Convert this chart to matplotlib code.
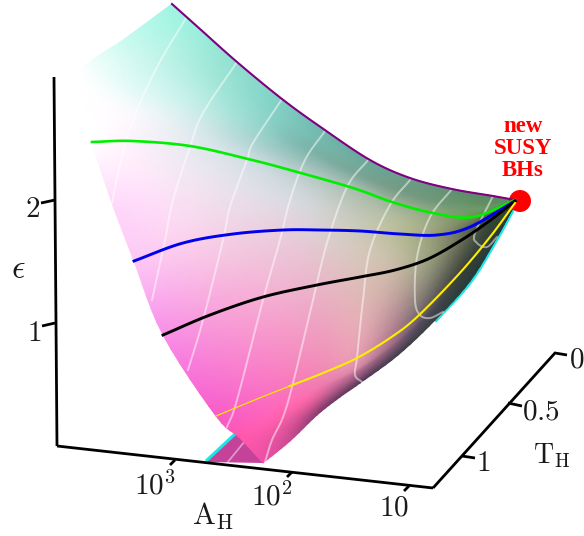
import numpy as np
import matplotlib
matplotlib.use('Agg')
import matplotlib.pyplot as plt
from matplotlib.colors import to_rgb
from matplotlib.patches import Circle, Polygon

plt.rcParams['mathtext.fontset'] = 'cm'

# surface: rows run from the far left edge to the SUSY point
row_top = [(172,4),(200,29),(237,62),(282,99),(322,128),(370,160),(410,178),(452,189),(493,196),(515,200)]
row_a = [(126,38),(168,50),(212,80),(268,109),(310,135),(362,167),(404,185),(446,197),(488,204),(515,200)]
row_b = [(80,72),(125,82),(190,103),(255,122),(300,145),(358,174),(400,191),(442,203),(482,209),(515,200)]
row_c = [(85,110),(128,112),(190,125),(250,142),(295,158),(355,181),(396,197),(437,208),(477,213),(515,200)]
green = [(92,142),(132,141),(190,146),(248,159),(290,170),(353,188),(392,202),(433,213),(473,217),(515,200)]
row_d = [(112,203),(158,192),(210,190),(265,195),(305,200),(356,210),(396,218),(435,224),(472,222),(515,200)]
blue = [(134,261),(183,243),(233,234),(283,230),(320,230),(360,231),(400,234),(437,235),(470,227),(515,201)]
black = [(163,335),(210,315),(263,297),(317,285),(360,277),(395,270),(428,259),(460,241),(488,222),(515,201)]
yellow = [(216,416),(257,399),(290,386),(323,373),(357,358),(390,338),(417,317),(458,275),(490,237),(515,203)]
row_e = [(240,438),(272,420),(307,400),(333,386),(360,372),(395,347),(426,319),(464,278),(493,237),(515,204)]
edge = [(263,463),(290,441),(317,415),(340,397),(360,383),(398,355),(435,320),(470,281),(497,237),(515,204)]
surface_rows = [row_top, row_a, row_b, row_c, green, row_d, blue, black, yellow, row_e, edge]

surface_colors = [
    ['#9ff5e2','#98eedc','#8fdfd0','#7fcfc4','#70b8ae','#68a79b','#6a9f8c','#5f8f78','#5a8a68','#60906a'],
    ['#c8fbf0','#b8f3e6','#a5e8da','#88d4c9','#78bdb2','#72a999','#709c85','#689672','#628f60','#60906a'],
    ['#ffffff','#e4fbf8','#c8f0ea','#98d8cf','#7fb9b0','#7ba696','#789c85','#6f9878','#6c9a68','#60906a'],
    ['#ffffff','#fbfafd','#dcecee','#b0d6d4','#9cc3be','#92b2a6','#8ba68e','#82a27c','#6f9660','#5a8858'],
    ['#ffffff','#fdf3fc','#e6eaf0','#cfdde2','#bdcfd0','#a8bdaf','#9eb09a','#8fa780','#748f5c','#507048'],
    ['#ffd9fb','#fde2f8','#efe2ef','#dfdde5','#d3d7da','#bfc6b8','#b3bc9e','#99a67f','#6f7c58','#486038'],
    ['#fdc6f5','#fbd0ee','#f2d0e4','#e8cfdc','#dbcfd2','#cbc9b8','#b8bb97','#959c78','#5f6a4c','#3f5030'],
    ['#f98ee8','#f8a0dc','#f5aed4','#e9b6c9','#dbbfb8','#c8b8a6','#9aa080','#6a7058','#3a4a38','#354830'],
    ['#f85cc8','#fa6cc4','#f878bc','#f088b4','#e49ab0','#b07c90','#786870','#3f4540','#304038','#304030'],
    ['#ff58ae','#ff60b0','#f868a8','#d06c9c','#a86688','#7a5a72','#4e4a58','#33403c','#2c3c38','#2c3c30'],
    ['#f050a8','#c84a90','#8a3a70','#6a3a60','#5a3a58','#443e4c','#3a4240','#2a3a38','#2a3a38','#2c3c30'],
]

# white lines on the surface
white_lines = [
    [(186,18),(157,67),(133,120),(120,165),(112,203)],
    [(237,62),(203,113),(190,147),(173,200),(165,240),(152,300)],
    [(282,99),(253,143),(247,160),(230,207),(223,240),(203,320),(188,370)],
    [(325,131),(305,160),(290,200),(280,240),(263,300),(237,400),(227,427)],
    [(368,160),(347,187),(327,243),(313,300),(293,383),(283,417),(272,440),(265,462)],
    [(410,180),(390,205),(370,250),(363,300),(357,357),(355,375),(362,382)],
    [(452,189),(430,217),(417,257),(415,300),(420,315),(430,318),(443,312)],
    [(493,196),(475,233),(477,243),(487,247),(497,237)],
]
fold_line = [(245,441),(227,463)]
fold_shape = [(206,462),(235,433),(257,450),(263,463)]
cyan_fold = [(206,461),(235,434)]
yellow_thin = [(216,416),(257,399),(290,386)]

# axes box
axis_z = [(54,77),(57,446)]
axis_x = [(57,446),(433,488)]
axis_y = [(433,488),(555,353),(567,355)]
z_ticks = [[(55,200),(41,203)], [(55,323),(42,326)]]
x_ticks = [[(175,460),(170,465)], [(292,472),(287,477)], [(409,486),(404,491)]]
y_ticks = [[(508,403),(522,406)], [(462,456),(475,458)]]
susy_point = (520,201)


def smooth(points, n=12):
    # catmull-rom through the read points, only to round off the drawing
    p = np.asarray(points, dtype=float)
    p = np.vstack([2*p[0]-p[1], p, 2*p[-1]-p[-2]])
    out = []
    for i in range(1, len(p)-2):
        t = np.linspace(0, 1, n, endpoint=False)[:, None]
        out.append(0.5*(2*p[i] + (p[i+1]-p[i-1])*t + (2*p[i-1]-5*p[i]+4*p[i+1]-p[i+2])*t**2
                        + (3*p[i]-p[i-1]-3*p[i+1]+p[i+2])*t**3))
    out.append(p[-2:-1])
    return np.vstack(out)


def refine(grid):
    rows = np.array([smooth(r, 6) for r in grid])
    return np.array([smooth(rows[:, j], 6) for j in range(rows.shape[1])]).transpose(1, 0, 2)


fig = plt.figure(figsize=(5.84, 5.36), dpi=100)
ax = fig.add_axes([0, 0, 1, 1])
ax.set_xlim(0, 584)
ax.set_ylim(536, 0)
ax.axis('off')

ax.add_patch(Polygon(fold_shape, closed=True, facecolor='#c4429a', edgecolor='none', zorder=1))
ax.plot(*zip(*cyan_fold), color='#19e6e6', lw=2.2, zorder=1.5, solid_capstyle='butt')
ax.plot(*zip(*fold_line), color='white', alpha=0.45, lw=1.3, zorder=1.6)

edge_line = smooth(edge[6:])
ax.plot(edge_line[:, 0]+1.2, edge_line[:, 1]+0.6, color='#19e6e6', lw=2, zorder=1.7)

pos = refine(np.array(surface_rows, dtype=float))
col = np.clip(refine(np.array([[to_rgb(c) for c in r] for r in surface_colors])), 0, 1)
ax.pcolormesh(pos[:, :, 0], pos[:, :, 1], col, shading='gouraud', zorder=2, rasterized=True)

for w in white_lines:
    s = smooth(w)
    ax.plot(s[:, 0], s[:, 1], color='white', alpha=0.5, lw=1.4, zorder=3)

s = smooth(row_top)
ax.plot(s[:, 0], s[:, 1], color='#800080', lw=1.5, zorder=4)
s = smooth(green)
ax.plot(s[:, 0], s[:, 1], color='#00ee00', lw=1.9, zorder=4)
s = smooth(blue)
ax.plot(s[:, 0], s[:, 1], color='#0000ee', lw=2.1, zorder=4)
s = smooth(black)
ax.plot(s[:, 0], s[:, 1], color='black', lw=2.1, zorder=4)
s = smooth(yellow_thin)
ax.plot(s[:, 0], s[:, 1], color='#ffe600', lw=0.9, zorder=4)
s = smooth(yellow[2:])
ax.plot(s[:, 0], s[:, 1], color='#ffee00', lw=1.5, zorder=4)

ax.add_patch(Circle(susy_point, 11, facecolor='#ff0000', edgecolor='none', zorder=3.5))

for a in [axis_z, axis_x, axis_y] + z_ticks + x_ticks + y_ticks:
    ax.plot(*zip(*a), color='black', lw=2, zorder=5, solid_capstyle='butt', solid_joinstyle='miter')

tc = '#1a1a1a'
for x, y, t, fs in [(33,209,'$2$',21), (34,333,'$1$',21), (18,269,r'$\epsilon$',24),
                    (155,486,'$10^3$',21), (272,497,'$10^2$',21), (394,507,'$10$',21),
                    (577,360,'$0$',21), (541,411,'$0.5$',21), (483,463,'$1$',21),
                    (213,516,r'$\mathrm{A_H}$',22), (552,456,r'$\mathrm{T_H}$',20)]:
    ax.text(x, y, t, fontsize=fs, color=tc, ha='center', va='center', zorder=6)

for y, t in [(127,'new'), (149,'SUSY'), (170,'BHs')]:
    ax.text(523, y, t, color='#ff0000', fontsize=16.5, family='Liberation Serif', fontweight='bold',
            ha='center', va='center', zorder=6)

fig.savefig('out.png', dpi=100)
